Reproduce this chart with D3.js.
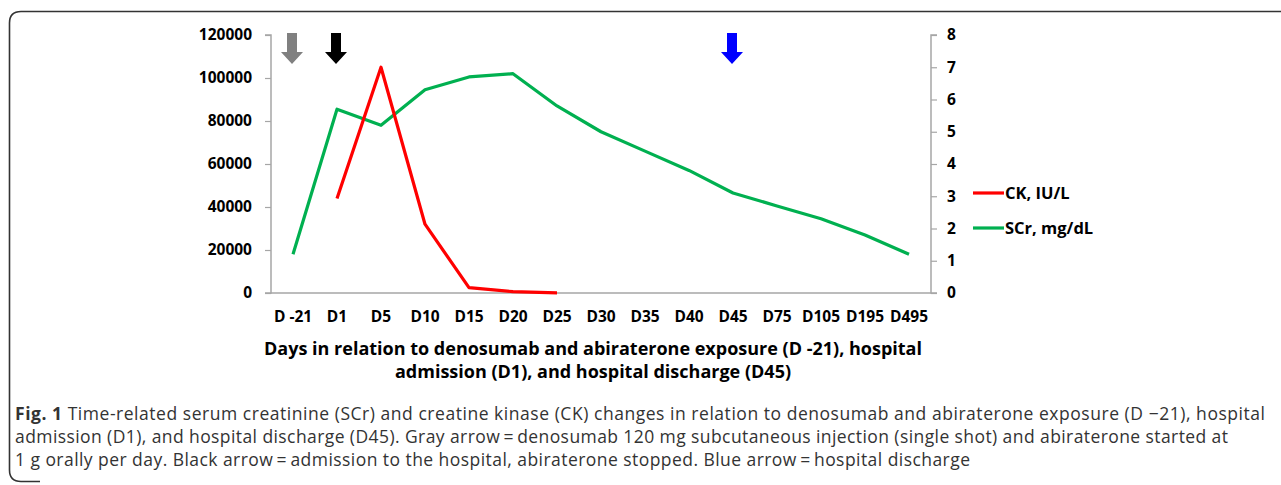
<!DOCTYPE html>
<html>
<head>
<meta charset="utf-8">
<script src="https://cdn.jsdelivr.net/npm/d3@7"></script>
<style>
  body { margin: 0; background: #fff; }
  svg { display: block; }
</style>
</head>
<body>
<svg id="chart" width="1281" height="485"></svg>
<script>
// categories on the x axis
var days = ["D -21", "D1", "D5", "D10", "D15", "D20", "D25", "D30", "D35", "D40", "D45", "D75", "D105", "D195", "D495"];
// CK, IU/L (left axis) - only measured from D1 to D25
var ck = [null, 44000, 105000, 32000, 2500, 600, 100, null, null, null, null, null, null, null, null];
// SCr, mg/dL (right axis)
var scr = [1.2, 5.7, 5.2, 6.3, 6.7, 6.8, 5.8, 5.0, 4.4, 3.8, 3.1, 2.7, 2.3, 1.8, 1.2];
var leftTicks = [0, 20000, 40000, 60000, 80000, 100000, 120000];
var rightTicks = [0, 1, 2, 3, 4, 5, 6, 7, 8];
// arrows: which day and colour
var arrowDays = ["D -21", "D1", "D45"];
var arrowColors = ["#808080", "#000000", "#0000ff"];
var legendNames = ["CK, IU/L", "SCr, mg/dL"];
var legendColors = ["#ff0000", "#00b050"];

var captionLines = [
  "Time-related serum creatinine (SCr) and creatine kinase (CK) changes in relation to denosumab and abiraterone exposure (D \u221221), hospital",
  "admission (D1), and hospital discharge (D45). Gray arrow\u2009=\u2009denosumab 120 mg subcutaneous injection (single shot) and abiraterone started at",
  "1 g orally per day. Black arrow\u2009=\u2009admission to the hospital, abiraterone stopped. Blue arrow\u2009=\u2009hospital discharge"
];
var captionWidths = [1250, 1213, 955];

var svg = d3.select("#chart");
var font = "'Open Sans', sans-serif";

// frame round the figure (no right or bottom edge visible)
svg.append("path")
  .attr("d", "M1290,11.5 H21 Q9.5,11.5 9.5,23 V470 Q9.5,481.5 21,481.5 H40")
  .attr("fill", "none").attr("stroke", "#333").attr("stroke-width", 1.6);

var plotLeft = 271, plotRight = 931, plotTop = 35, plotBottom = 293;

var x = d3.scaleBand().domain(days).range([plotLeft, plotRight]);
var yL = d3.scaleLinear().domain([0, 120000]).range([plotBottom, plotTop]);
var yR = d3.scaleLinear().domain([0, 8]).range([plotBottom, plotTop]);
function cx(d) { return x(d) + x.bandwidth() / 2; }

// axes
var gL = svg.append("g").attr("transform", "translate(" + plotLeft + ",0)")
  .call(d3.axisLeft(yL).tickValues(leftTicks).tickSize(6).tickPadding(13).tickFormat(d3.format("d")));
var gR = svg.append("g").attr("transform", "translate(" + plotRight + ",0)")
  .call(d3.axisRight(yR).tickValues(rightTicks).tickSize(6).tickPadding(10));
var gB = svg.append("g").attr("transform", "translate(0," + plotBottom + ")")
  .call(d3.axisBottom(x).tickSize(0).tickPadding(18));

[gL, gR, gB].forEach(function(g) {
  g.select(".domain").attr("stroke", "#a6a6a6").attr("stroke-width", 1.5);
  g.selectAll(".tick line").attr("stroke", "#a6a6a6").attr("stroke-width", 1.2);
  g.selectAll(".tick text").attr("font-family", font).attr("font-weight", 700)
    .attr("font-size", 15.5).attr("fill", "#000");
});
gR.select(".domain").attr("d", "M6," + plotTop + "H0V" + plotBottom + "H6");
gL.select(".domain").attr("d", "M-6," + plotTop + "H0V" + plotBottom + "H-6");
gB.select(".domain").attr("d", "M" + plotLeft + ",0H" + plotRight);

// lines
var ckLine = d3.line()
  .defined(function(d) { return d != null; })
  .x(function(d, i) { return cx(days[i]); })
  .y(function(d) { return yL(d); });
var scrLine = d3.line()
  .x(function(d, i) { return cx(days[i]); })
  .y(function(d) { return yR(d); });

svg.append("path").datum(scr).attr("d", scrLine)
  .attr("fill", "none").attr("stroke", legendColors[1]).attr("stroke-width", 3.2).attr("stroke-linejoin", "round");
svg.append("path").datum(ck).attr("d", ckLine)
  .attr("fill", "none").attr("stroke", legendColors[0]).attr("stroke-width", 3.2).attr("stroke-linejoin", "round");

// arrows
svg.selectAll(".arrow").data(arrowDays).enter().append("path")
  .attr("class", "arrow")
  .attr("transform", function(d) { return "translate(" + (cx(d) - 1) + ",33)"; })
  .attr("d", "M-5,0 H5 V19 H11 L0,31 L-11,19 H-5 Z")
  .attr("fill", function(d, i) { return arrowColors[i]; });

// legend
var leg = svg.selectAll(".leg").data(legendNames).enter().append("g")
  .attr("transform", function(d, i) { return "translate(973," + (193 + i * 35) + ")"; });
leg.append("line").attr("x1", 0).attr("x2", 31).attr("y1", 0).attr("y2", 0)
  .attr("stroke", function(d, i) { return legendColors[i]; }).attr("stroke-width", 3.2);
leg.append("text").attr("x", 32).attr("dy", "0.36em").text(function(d) { return d; })
  .attr("font-family", font).attr("font-weight", 700).attr("font-size", 16.5).attr("fill", "#000");

// x axis title
var title = ["Days in relation to denosumab and abiraterone exposure (D -21), hospital",
             "admission (D1), and hospital discharge (D45)"];
svg.selectAll(".xt").data(title).enter().append("text")
  .attr("x", 593).attr("y", function(d, i) { return 355 + i * 23; })
  .attr("text-anchor", "middle")
  .attr("font-family", font).attr("font-weight", 700).attr("font-size", 18).attr("fill", "#000")
  .text(function(d) { return d; });

// caption
var cap = svg.selectAll(".cap").data(captionLines).enter().append("text")
  .attr("x", 15).attr("y", function(d, i) { return 420 + i * 23; })
  .attr("textLength", function(d, i) { return captionWidths[i]; })
  .attr("lengthAdjust", "spacing")
  .attr("font-family", font).attr("font-size", 17.5).attr("fill", "#333");
cap.each(function(d, i) {
  var t = d3.select(this);
  if (i === 0) t.append("tspan").attr("font-weight", 700).text("Fig. 1 ");
  t.append("tspan").text(d);
});
</script>
</body>
</html>
